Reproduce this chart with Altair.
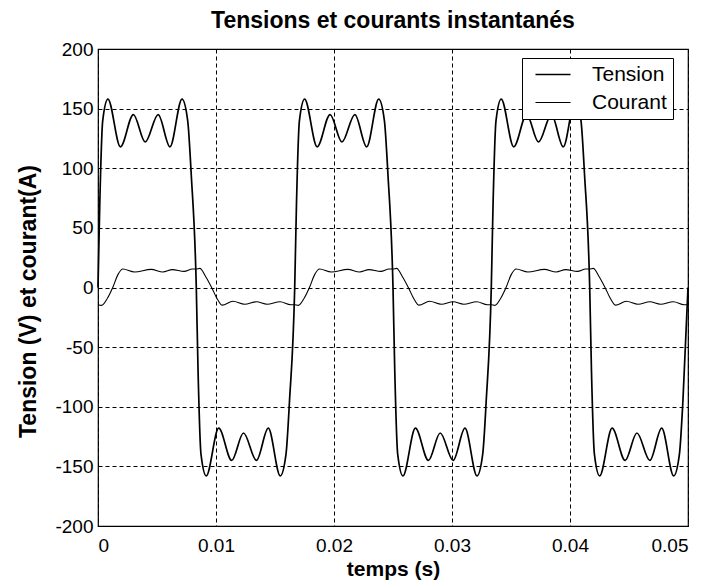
import altair as alt
import pandas as pd

# Tension (V), three periods of 1/60 s
t_tension = [
    0.0, 0.00015, 0.0004, 0.00084, 0.0019, 0.0030, 0.0040, 0.0051, 0.0061, 0.00712, 0.0076, 0.0079,
    0.00833, 0.00848, 0.00873, 0.00917, 0.01023, 0.01133, 0.01233, 0.01343, 0.01443, 0.01545, 0.01593, 0.01623,
    0.01667, 0.01682, 0.01707, 0.01751, 0.01857, 0.01967, 0.02067, 0.02177, 0.02277, 0.02379, 0.02427, 0.02457,
    0.025, 0.02515, 0.0254, 0.02584, 0.0269, 0.028, 0.029, 0.0301, 0.0311, 0.03212, 0.0326, 0.0329,
    0.03333, 0.03348, 0.03373, 0.03417, 0.03523, 0.03633, 0.03733, 0.03843, 0.03943, 0.04045, 0.04093, 0.04123,
    0.04167, 0.04182, 0.04207, 0.04251, 0.04357, 0.04467, 0.04567, 0.04677, 0.04777, 0.04879, 0.04927, 0.04957,
    0.05,
]
v_tension = [
    0, 70, 140, 158, 118, 145, 122, 145, 118, 158, 140, 95,
    0, -70, -140, -158, -118, -145, -122, -145, -118, -158, -140, -95,
    0, 70, 140, 158, 118, 145, 122, 145, 118, 158, 140, 95,
    0, -70, -140, -158, -118, -145, -122, -145, -118, -158, -140, -95,
    0, 70, 140, 158, 118, 145, 122, 145, 118, 158, 140, 95,
    0, -70, -140, -158, -118, -145, -122, -145, -118, -158, -140, -95,
    0,
]

# Courant (A)
t_courant = [
    0.0, 0.0003, 0.0008, 0.00125, 0.0017, 0.0021, 0.0031, 0.0045, 0.0055, 0.0063, 0.0073, 0.0080,
    0.00833, 0.00863, 0.00913, 0.00963, 0.01013, 0.01053, 0.01143, 0.01243, 0.01343, 0.01433, 0.01543, 0.01633,
    0.01667, 0.01697, 0.01747, 0.01792, 0.01837, 0.01877, 0.01977, 0.02117, 0.02217, 0.02297, 0.02397, 0.02467,
    0.025, 0.0253, 0.0258, 0.0263, 0.0268, 0.0272, 0.0281, 0.0291, 0.0301, 0.031, 0.0321, 0.033,
    0.03333, 0.03363, 0.03413, 0.03458, 0.03503, 0.03543, 0.03643, 0.03783, 0.03883, 0.03963, 0.04063, 0.04133,
    0.04167, 0.04197, 0.04247, 0.04297, 0.04347, 0.04387, 0.04477, 0.04577, 0.04677, 0.04767, 0.04877, 0.04967,
    0.05,
]
i_courant = [
    -14.5, -15, -9, 0, 11, 15.5, 13, 15.2, 13, 15, 13.5, 15.5,
    15.5, 16, 9, 0, -10, -14.8, -11.5, -14, -12, -14, -12, -14.5,
    -14.5, -15, -9, 0, 11, 15.5, 13, 15.2, 13, 15, 13.5, 15.5,
    15.5, 16, 9, 0, -10, -14.8, -11.5, -14, -12, -14, -12, -14.5,
    -14.5, -15, -9, 0, 11, 15.5, 13, 15.2, 13, 15, 13.5, 15.5,
    15.5, 16, 9, 0, -10, -14.8, -11.5, -14, -12, -14, -12, -14.5,
    -14.5,
]

series_names = ["Tension", "Courant"]
x_ticks = [0, 0.01, 0.02, 0.03, 0.04, 0.05]
y_ticks = [-200, -150, -100, -50, 0, 50, 100, 150, 200]

df = pd.concat([
    pd.DataFrame({"t": t_tension, "val": v_tension, "serie": series_names[0]}),
    pd.DataFrame({"t": t_courant, "val": i_courant, "serie": series_names[1]}),
], ignore_index=True)

FONT = "Liberation Sans"

chart = alt.Chart(df).mark_line(interpolate="monotone", color="black").encode(
    x=alt.X("t:Q", scale=alt.Scale(domain=[0, 0.05], nice=False, zero=False),
            axis=alt.Axis(values=x_ticks, labelExpr="'' + datum.value", title="temps (s)",
                          labelPadding=10, titleY=43, titleBaseline="middle",
                          titleFontSize=21)),
    y=alt.Y("val:Q", scale=alt.Scale(domain=[-200, 200], nice=False),
            axis=alt.Axis(values=y_ticks, labelExpr="'' + datum.value",
                          title="Tension (V) et courant(A)", labelPadding=5,
                          titleX=-70, titleY=252, titleAngle=270,
                          titleBaseline="middle", titleAlign="center")),
    color=alt.Color("serie:N", scale=alt.Scale(domain=series_names, range=["black", "black"]),
                    legend=alt.Legend(title=None, orient="none", legendX=424, legendY=9,
                                      symbolType="M-0.333,0L3.556,0", symbolSize=324,
                                      labelOffset=43, rowPadding=6, padding=6,
                                      strokeColor="black", fillColor="white",
                                      labelFontSize=21, labelFont=FONT, labelColor="black")),
    strokeWidth=alt.StrokeWidth("serie:N", scale=alt.Scale(domain=series_names, range=[1.7, 1.1]),
                                legend=None),
).properties(
    width=590,
    height=477,
    title=alt.TitleParams("Tensions et courants instantanés", font=FONT, fontSize=23,
                          fontWeight="bold", anchor="middle", offset=7, color="black"),
    padding={"left": 90, "top": 41, "right": 17, "bottom": 57},
    autosize=alt.AutoSizeParams(type="none"),
).configure_view(
    stroke="black", strokeWidth=1.2
).configure_axis(
    domain=False, ticks=False, grid=True, gridColor="black", gridDash=[4, 3],
    gridOpacity=1, gridWidth=1,
    labelFont=FONT, labelFontSize=19, labelColor="black",
    titleFont=FONT, titleFontSize=23, titleFontWeight="bold", titleColor="black",
)

chart.save("out.html", embed_options={"renderer": "svg", "actions": False})
